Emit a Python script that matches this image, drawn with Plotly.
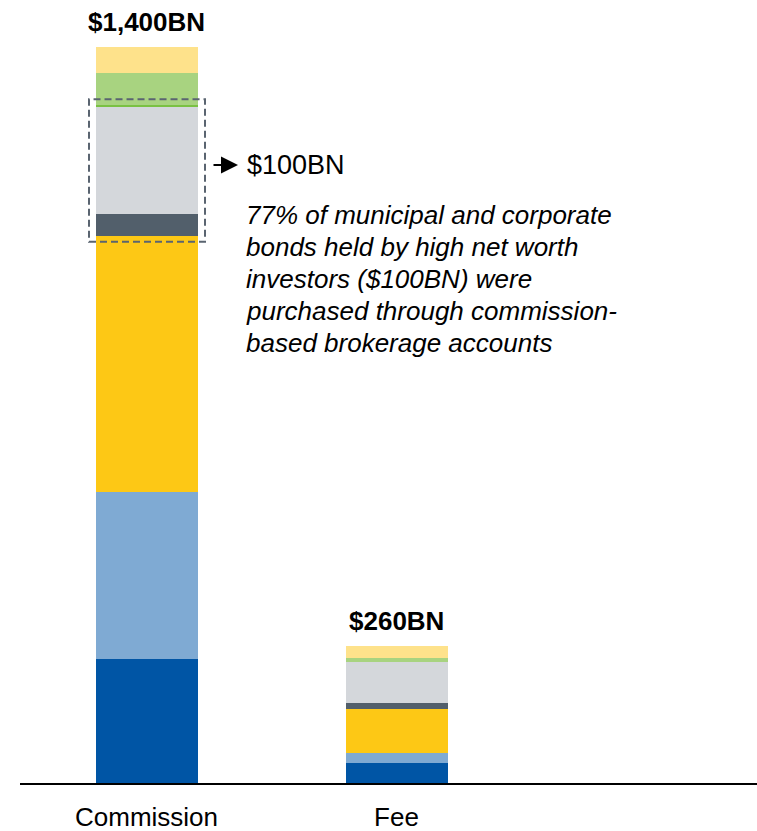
import plotly.graph_objects as go

# Account types and the assets held in each (USD billions), stacked bottom to top
accounts = ["Commission", "Fee"]
segment_names = ["Segment 1", "Segment 2", "Segment 3", "Segment 4",
                 "Segment 5", "Segment 6", "Segment 7", "Segment 8"]
segment_values = [
    [235, 38],   # dark blue
    [318, 20],   # light blue
    [487, 83],   # yellow
    [41, 11],    # slate
    [204, 79],   # light gray
    [5, 0],      # green rule
    [60, 7],     # green
    [50, 22],    # pale yellow
]
segment_colors = ["#0055A5", "#7FAAD3", "#FDC815", "#525F6B",
                  "#D4D7DB", "#7AC143", "#A8D380", "#FEE28B"]
total_labels = ["$1,400BN", "$260BN"]
totals = [1400, 260]

callout_value = "$100BN"
callout_lines = [
    "77% of municipal and corporate",
    "bonds held by high net worth",
    "investors ($100BN) were",
    "purchased through commission-",
    "based brokerage accounts",
]

W, H = 757, 831
M_L, M_R, M_T, M_B = 20, 0, 33, 48
PLOT_W, PLOT_H = W - M_L - M_R, H - M_T - M_B
Y_MAX = 1426
X_RANGE = [-0.506, -0.506 + PLOT_W / 250]

FONT = "Liberation Sans, Arial, sans-serif"

fig = go.Figure()
for name, vals, col in zip(segment_names, segment_values, segment_colors):
    fig.add_trace(go.Bar(x=accounts, y=vals, name=name, marker_color=col,
                         marker_line_width=0, width=0.408, showlegend=False))

# Totals above each bar
for acc, lab, tot in zip(accounts, total_labels, totals):
    fig.add_annotation(x=acc, y=tot, text=f"<b>{lab}</b>", showarrow=False,
                       yanchor="bottom", yshift=8,
                       font=dict(family=FONT, size=26, color="#000000"))

# Dashed frame around the slate + light gray part of the commission bar
cum = [0]
for vals in segment_values:
    cum.append(cum[-1] + vals[0])
box_bottom = cum[3] - 11
box_top = cum[5] + 15
fig.add_shape(type="rect", xref="x", yref="y", x0=-0.23, x1=0.234,
              y0=box_bottom, y1=box_top,
              line=dict(color="#5A6470", width=2, dash="7px,4px"),
              fillcolor="rgba(0,0,0,0)", layer="above")


def px_x(px):
    return (px - M_L) / PLOT_W


def px_y(py):
    return (M_T + PLOT_H - py) / PLOT_H


# Arrow and callout text
fig.add_annotation(xref="paper", yref="paper", x=px_x(238), y=px_y(165),
                   ax=-26, ay=0, axref="pixel", ayref="pixel",
                   text="", showarrow=True, arrowhead=2, arrowsize=1.7,
                   arrowwidth=2, arrowcolor="#000000")
fig.add_annotation(xref="paper", yref="paper", x=px_x(245), y=px_y(165),
                   text=callout_value, showarrow=False, xanchor="left",
                   yanchor="middle",
                   font=dict(family=FONT, size=27, color="#000000"))
for i, line in enumerate(callout_lines):
    fig.add_annotation(xref="paper", yref="paper", x=px_x(244),
                       y=px_y(215 + 32 * i),
                       text=f"<i>{line}</i>", showarrow=False,
                       xanchor="left", yanchor="middle", align="left",
                       font=dict(family=FONT, size=26, color="#000000"))

fig.update_layout(
    width=W, height=H,
    margin=dict(l=M_L, r=M_R, t=M_T, b=M_B),
    barmode="stack",
    plot_bgcolor="white", paper_bgcolor="white",
    xaxis=dict(range=X_RANGE, showgrid=False, zeroline=False,
               showline=True, linecolor="#000000", linewidth=2,
               ticks="", ticklabelstandoff=10, automargin=False,
               tickfont=dict(family=FONT, size=26, color="#000000")),
    yaxis=dict(range=[0, Y_MAX], visible=False, showgrid=False),
)

fig.write_html("out.html")
